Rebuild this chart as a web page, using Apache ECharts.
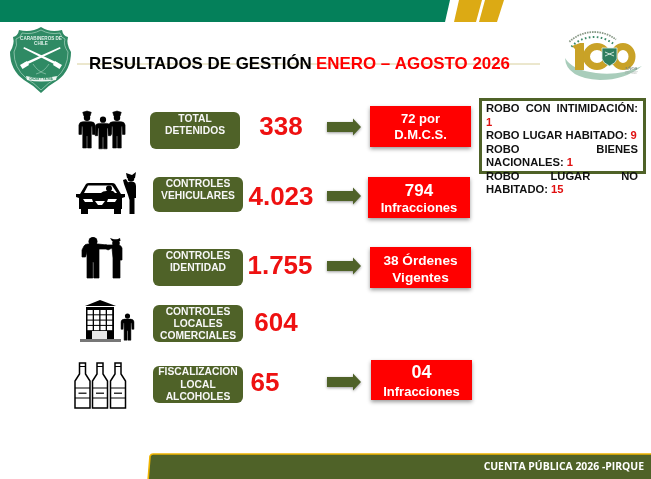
<!DOCTYPE html>
<html>
<head>
<meta charset="utf-8">
<title>Resultados de gestión</title>
<script src="https://cdn.jsdelivr.net/npm/echarts@6/dist/echarts.min.js"></script>
<style>
html,body{margin:0;padding:0;background:#fff;}
#main{width:651px;height:479px;}
</style>
</head>
<body>
<div id="main"></div>
<script>
// data
var titleBlack = 'RESULTADOS DE GESTIÓN';
var titleRed = 'ENERO – AGOSTO 2026';
var footerText = 'CUENTA PÚBLICA 2026 -PIRQUE';
var categories = [
	['TOTAL', 'DETENIDOS'],
	['CONTROLES', 'VEHICULARES'],
	['CONTROLES', 'IDENTIDAD'],
	['CONTROLES', 'LOCALES', 'COMERCIALES'],
	['FISCALIZACION', 'LOCAL', 'ALCOHOLES']
];
var totals = ['338', '4.023', '1.755', '604', '65'];
var outcomes = [
	['72 por', 'D.M.C.S.'],
	['794', 'Infracciones'],
	['38 Órdenes', 'Vigentes'],
	null,
	['04', 'Infracciones']
];
var robberyTypes = ['ROBO CON INTIMIDACIÓN', 'ROBO LUGAR HABITADO', 'ROBO BIENES NACIONALES', 'ROBO LUGAR NO HABITADO'];
var robberyCounts = ['1', '9', '1', '15'];

// layout, by row
var OLIVE = '#4f6228', RED = '#ff0000', GOLD = '#dcaa14', GREEN = '#04805a', FONT = '"Liberation Sans",Arial,sans-serif';
var catBoxes = [[150, 112, 90, 37], [153, 177, 90, 35], [153, 249, 90, 37], [153, 305, 90, 37], [153, 366, 90, 37]];
var catTextY = [[119, 131], [184, 196], [256, 268], [312, 324, 336], [372, 385, 397]];
var totalPos = [[281, 128], [281, 198], [280, 267], [276, 324], [265, 384]];
var arrowY = [127, 196, 266, null, 382];
var outBoxes = [[370, 106, 101, 41], [368, 177, 102, 41], [370, 247, 101, 41], null, [371, 360, 101, 40]];
var outTextY = [[119, 135], [191, 208], [261, 278], null, [373, 392]];
var outSizes = [[13, 13], [17, 13], [13.6, 13.6], null, [18, 13]];

var els = [];
function txt(s, x, y, font, fill, align, z) {
	var a = align || 'center';
	els.push({type: 'text', z: z || 5, style: {text: s, x: x, y: y, font: font, fill: fill, align: a, textAlign: a, verticalAlign: 'middle', textVerticalAlign: 'middle'}});
}
function path(d, fill, extra, pos, scale) {
	var e = {type: 'path', shape: {pathData: d}, style: {fill: fill}, z: 3};
	if (extra) { for (var k in extra) { e.style[k] = extra[k]; } }
	if (pos) { e.x = pos[0]; e.y = pos[1]; }
	if (scale) { e.scaleX = scale; e.scaleY = scale; }
	els.push(e);
}
function dot(cx, cy, r, fill, z) {
	els.push({type: 'circle', z: z || 4, shape: {cx: cx, cy: cy, r: r}, style: {fill: fill}});
}
function box(b, fill, r, shadow) {
	var st = {fill: fill};
	if (shadow) { st.shadowBlur = 4; st.shadowOffsetY = 2; st.shadowColor = 'rgba(0,0,0,0.4)'; }
	els.push({type: 'rect', z: 2, shape: {x: b[0], y: b[1], width: b[2], height: b[3], r: r || 0}, style: st});
}

// header band
path('M0 0H450L445 22H0Z', GREEN);
path('M459 0H482L476 22H454Z', GOLD);
path('M485 0H504L497 22H479Z', GOLD);
els.push({type: 'line', z: 1, shape: {x1: 77, y1: 64, x2: 540, y2: 64}, style: {stroke: '#d8cf9c', lineWidth: 1}});

// title
txt(titleBlack, 89, 64, 'bold 16.9px ' + FONT, '#000', 'left');
txt(titleRed, 316, 64, 'bold 16.9px ' + FONT, RED, 'left');

// shield
path('M41 27Q50 33 62 30Q63 36 68 37Q66 44 71 52Q71 70 58 80Q49 85 41 93Q33 85 24 80Q10 70 10 52Q15 44 13 37Q18 36 19 30Q31 33 41 27Z', '#2f8a64');
path('M41 30Q50 35 60 33Q61 38 65 39Q63 45 68 52Q68 68 56 78Q48 83 41 90Q34 83 26 78Q14 68 14 52Q18 45 16 39Q21 38 22 33Q32 35 41 30Z', 'none', {stroke: '#bfe0d0', lineWidth: 0.6});
txt('CARABINEROS DE', 41, 39, 'bold 4.6px ' + FONT, '#dff0e8');
txt('CHILE', 41, 44, 'bold 4.6px ' + FONT, '#dff0e8');
path('M24 63L60 47L60.6 48.5L26 65Z', '#fff');
path('M58 63L24 47L23.4 48.5L56 65Z', '#fff');
path('M20 65L27 61L29 65L22.5 69Z', '#fff');
path('M62 65L55 61L53 65L59.5 69Z', '#fff');
path('M33 64Q38 72 46 74M49 64Q44 72 36 74', 'none', {stroke: '#bfe0d0', lineWidth: 0.5});
path('M26 76Q41 80 57 76L56 80Q41 83 27 80Z', '#eef5f1');
txt('ORDEN Y PATRIA', 41, 79, 'bold 2.8px ' + FONT, '#2f8a64');

// centenary logo
path('M565 58Q566 78 600 80Q625 80 642 66Q620 76 596 73Q572 70 565 58Z', '#a9cdbb');
path('M572 46L580 43H584V70H575V49Z', '#c9a227');
els.push({type: 'ellipse', z: 3, shape: {cx: 597, cy: 56.5, rx: 10.5, ry: 10}, style: {fill: 'none', stroke: '#c9a227', lineWidth: 7}});
els.push({type: 'ellipse', z: 3, shape: {cx: 623, cy: 56.5, rx: 9, ry: 10}, style: {fill: 'none', stroke: '#c9a227', lineWidth: 7}});
path('M602 48H617V59Q616 63 609.5 66Q603 63 602 59Z', '#2f7f5f', {stroke: '#e5efe9', lineWidth: 0.8});
path('M605 56L614 52M614 56L605 52', 'none', {stroke: '#dfeee7', lineWidth: 0.9});
els.push({type: 'arc', z: 3, shape: {cx: 594, cy: 68, r: 31, startAngle: Math.PI * 1.24, endAngle: Math.PI * 1.73}, style: {stroke: '#3c8a68', lineWidth: 2, lineDash: [1.6, 2.4], fill: 'none'}});
els.push({type: 'arc', z: 3, shape: {cx: 594, cy: 68, r: 36, startAngle: Math.PI * 1.26, endAngle: Math.PI * 1.71}, style: {stroke: '#8a9a88', lineWidth: 1.8, lineDash: [1.6, 0.9], fill: 'none'}});
txt('AÑOS', 631, 69, 'bold 4.6px "Liberation Serif",serif', '#6f7f74');
txt('1927-2027', 631, 73.5, '3px "Liberation Serif",serif', '#9aa69e');

// icons
var HEAD = 'M-3.8 4.5a3.8 3.8 0 1 0 7.6 0a3.8 3.8 0 1 0 -7.6 0Z';
var CAP = 'M-5 -2L0 -3.5L5 -2L3.6 2.5H-3.6Z';
var BODY = 'M-4.5 9H4.5Q9 9 9.5 13L9.5 24H6.5L6 14.5L5 15V40H0.6V26H-0.6V40H-5V15L-6 14.5L-6.5 24H-9.5L-9.5 13Q-9 9 -4.5 9Z';
var HEAVY = {stroke: '#000', lineWidth: 0.7};
function person(x, y, s, cap) {
	path(HEAD, '#000', null, [x, y], s);
	path(BODY, '#000', HEAVY, [x, y], s);
	if (cap) { path(CAP, '#000', HEAVY, [x, y], s); }
}
// detainees row
person(87, 114, 0.85, true);
person(103, 116, 0.82, false);
person(117, 114, 0.85, true);
// car and officer
path('M80 194L86 184Q87 183 89 183H112Q114 183 115 184L121 194H125V197L122 198V209H121V214H114V209H88V214H81V209H79V198L76 197V194Z', '#000');
path('M84 193L88 185.5H112L117 193Z', '#fff');
dot(109, 188.5, 3, '#000');
path('M101 193Q103 190.5 108 191H113L115 193Z', '#000');
path('M83 199H92L93 202H85Z', '#fff');
path('M117 199H108L107 202H115Z', '#fff');
path('M95 201H105L102 205H98Z', '#fff');
path('M126 173L132 175L136 172L135 178H127Z', '#000');
dot(131, 178.5, 3.3, '#000');
path('M128 182H134Q136 183 136 186V198H134.5V214H129.5V200L128 195L124 184L123 180L126 179L129 184Z', '#000');
// identity check
dot(93, 241.5, 4.5, '#000');
path('M84 246Q85 244 88 244H98L107 245V249L99 249V278H93.8V262H92.8V278H87V252L85.5 257H82V250Z', '#000', HEAVY);
path('M110 238L116 240L120 238L120.5 241H112Z', '#000');
dot(116, 243, 3.8, '#000');
path('M112 248L108 250L105 248V245H108L112 245H118Q121 245 122 248V260H120V278H113V258Z', '#000', HEAVY);
// building and person
path('M85 306L100 300L116 306Z', '#000');
path('M86 307H114V339H86Z', '#000');
path('M80 339H121V342H80Z', '#777');
for (var r = 0; r < 4; r++) {
	for (var c = 0; c < 4; c++) {
		els.push({type: 'rect', z: 4, shape: {x: 87.5 + c * 6.5, y: 310 + r * 5.3, width: 5.2, height: 4.3}, style: {fill: '#fff'}});
	}
}
els.push({type: 'rect', z: 4, shape: {x: 92, y: 331, width: 15, height: 8}, style: {fill: '#e8e8e8'}});
path('M97 331V339M102 331V339', 'none', {stroke: '#777', lineWidth: 0.5});
person(127.5, 313, 0.68, false);
// bottles
var bottleX = [82.5, 100, 118];
for (var b = 0; b < 3; b++) {
	path('M-3 0H3V11L7.5 18V45H-7.5V18L-3 11Z', '#fff', {stroke: '#000', lineWidth: 1.5}, [bottleX[b], 363]);
	path('M-3 3.5H3', 'none', {stroke: '#000', lineWidth: 1}, [bottleX[b], 363]);
	path('M-7.5 25H7.5M-7.5 35H7.5', 'none', {stroke: '#000', lineWidth: 1}, [bottleX[b], 363]);
	path('M-4 29.5H4V31H-4Z', '#333', null, [bottleX[b], 363]);
}

// rows
categories.forEach(function (lines, i) {
	box(catBoxes[i], OLIVE, 6);
	lines.forEach(function (s, j) {
		txt(s, catBoxes[i][0] + catBoxes[i][2] / 2, catTextY[i][j], 'bold 10.3px ' + FONT, '#f7f7f7');
	});
	txt(totals[i], totalPos[i][0], totalPos[i][1], 'bold 26px ' + FONT, '#ee1111');
	if (outcomes[i]) {
		var y = arrowY[i];
		els.push({type: 'polygon', z: 2,
			shape: {points: [[327, y - 5], [353, y - 5], [353, y - 8.5], [361, y], [353, y + 8.5], [353, y + 5], [327, y + 5]]},
			style: {fill: OLIVE, shadowBlur: 3, shadowOffsetY: 1, shadowColor: 'rgba(0,0,0,0.4)'}});
		box(outBoxes[i], RED, 0, true);
		outcomes[i].forEach(function (s, j) {
			txt(s, outBoxes[i][0] + outBoxes[i][2] / 2, outTextY[i][j], 'bold ' + outSizes[i][j] + 'px ' + FONT, '#fff');
		});
	}
});

// robbery note, justified like the slide
els.push({type: 'rect', z: 2, shape: {x: 480.5, y: 99.5, width: 164, height: 73}, style: {fill: 'none', stroke: OLIVE, lineWidth: 3}});
var noteFont = 'bold 11.2px ' + FONT, noteL = 486, noteW = 152, noteY = 109, noteStep = 13.55;
var mctx = document.createElement('canvas').getContext('2d');
mctx.font = noteFont;
function noteLine(words, justify) {
	var sum = 0;
	words.forEach(function (w) { sum += mctx.measureText(w.s).width; });
	var gap = justify && words.length > 1 ? (noteW - sum) / (words.length - 1) : mctx.measureText(' ').width;
	var x = noteL;
	words.forEach(function (w) {
		txt(w.s, x, noteY, noteFont, w.c, 'left', 6);
		x += mctx.measureText(w.s).width + gap;
	});
	noteY += noteStep;
}
robberyTypes.forEach(function (t, i) {
	var words = t.split(' ').map(function (s) { return {s: s, c: '#111'}; });
	words[words.length - 1].s += ':';
	words.push({s: robberyCounts[i], c: '#e01010'});
	var line = [], w = 0, sp = mctx.measureText(' ').width;
	words.forEach(function (word) {
		var ww = mctx.measureText(word.s).width;
		if (line.length && w + sp + ww > noteW) {
			noteLine(line, true);
			line = []; w = 0;
		}
		w += (line.length ? sp : 0) + ww;
		line.push(word);
	});
	noteLine(line, false);
});

// footer
path('M150 456Q151 454 153 454H653V481H148Z', OLIVE, {stroke: '#f0b400', lineWidth: 1.6});
txt(footerText, 644, 467.5, 'bold 10.4px "Open Sans",sans-serif', '#fff', 'right');

// stable sort so the painting order follows z
els = els.map(function (e, i) { return [e, i]; }).sort(function (a, b) {
	return (a[0].z - b[0].z) || (a[1] - b[1]);
}).map(function (p) { return p[0]; });

var main = echarts.init(document.getElementById('main'));
main.setOption({
	backgroundColor: '#fff',
	animation: false,
	series: [{
		type: 'custom',
		coordinateSystem: 'none',
		silent: true,
		data: [0],
		renderItem: function () {
			return {type: 'group', children: els};
		}
	}]
});
</script>
</body>
</html>
